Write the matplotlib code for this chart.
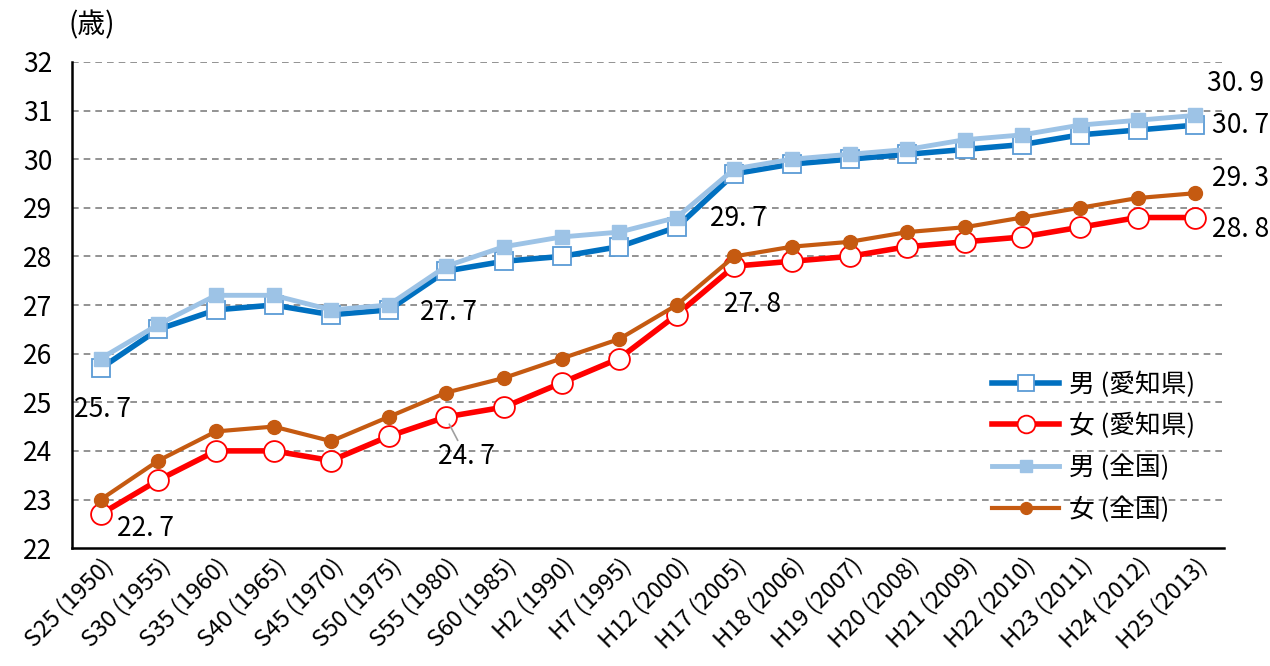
import matplotlib
matplotlib.use("Agg")
import matplotlib.pyplot as plt

plt.rcParams['font.family'] = ['Noto Sans CJK JP', 'DejaVu Sans']
NARROW = ['Liberation Sans Narrow', 'Noto Sans CJK JP']

categories = ["S25 (1950)", "S30 (1955)", "S35 (1960)", "S40 (1965)", "S45 (1970)",
              "S50 (1975)", "S55 (1980)", "S60 (1985)", "H2 (1990)", "H7 (1995)",
              "H12 (2000)", "H17 (2005)", "H18 (2006)", "H19 (2007)", "H20 (2008)",
              "H21 (2009)", "H22 (2010)", "H23 (2011)", "H24 (2012)", "H25 (2013)"]

male_aichi = [25.7, 26.5, 26.9, 27.0, 26.8, 26.9, 27.7, 27.9, 28.0, 28.2,
              28.6, 29.7, 29.9, 30.0, 30.1, 30.2, 30.3, 30.5, 30.6, 30.7]
female_aichi = [22.7, 23.4, 24.0, 24.0, 23.8, 24.3, 24.7, 24.9, 25.4, 25.9,
                26.8, 27.8, 27.9, 28.0, 28.2, 28.3, 28.4, 28.6, 28.8, 28.8]
male_japan = [25.9, 26.6, 27.2, 27.2, 26.9, 27.0, 27.8, 28.2, 28.4, 28.5,
              28.8, 29.8, 30.0, 30.1, 30.2, 30.4, 30.5, 30.7, 30.8, 30.9]
female_japan = [23.0, 23.8, 24.4, 24.5, 24.2, 24.7, 25.2, 25.5, 25.9, 26.3,
                27.0, 28.0, 28.2, 28.3, 28.5, 28.6, 28.8, 29.0, 29.2, 29.3]

labels = ["男 (愛知県)", "女 (愛知県)", "男 (全国)", "女 (全国)"]

fig = plt.figure(figsize=(12.7, 6.66), dpi=100)
ax = fig.add_axes([0.0567, 0.177, 0.907, 0.730])
x = list(range(len(categories)))

l1, = ax.plot(x, male_aichi, color='#0070C0', lw=4, marker='s', ms=13,
              mfc='white', mec='#5B9BD5', mew=1.3, zorder=3)
l2, = ax.plot(x, female_aichi, color='#FF0000', lw=4, marker='o', ms=15,
              mfc='white', mec='#FF0000', mew=1.3, zorder=4)
l3, = ax.plot(x, male_japan, color='#9DC3E6', lw=3.5, marker='s', ms=10,
              mfc='#9DC3E6', mec='#9DC3E6', zorder=5)
l4, = ax.plot(x, female_japan, color='#C55A11', lw=3, marker='o', ms=10,
              mfc='#C55A11', mec='#C55A11', zorder=6)

ax.set_xlim(-0.5, len(categories) - 0.5)
ax.set_ylim(22, 32)
ax.set_yticks(range(22, 33))
ax.tick_params(axis='y', length=0, pad=14)
ax.tick_params(axis='x', length=0, pad=4)
for t in ax.get_yticklabels():
    t.set_fontfamily(NARROW)
    t.set_fontsize(19)
ax.set_xticks(x)
ax.set_xticklabels(categories, rotation=45, ha='right', rotation_mode='anchor',
                   fontsize=17, family=NARROW)

for v in range(23, 33):
    ax.axhline(v, color='#808080', lw=1.2, ls=(0, (4, 3)), zorder=1)

for s in ['top', 'right']:
    ax.spines[s].set_visible(False)
ax.spines['left'].set_linewidth(1.8)
ax.spines['bottom'].set_linewidth(1.8)

fs = 19
kw = dict(fontsize=fs, va='center', ha='left', zorder=7, family=NARROW, clip_on=False)
ax.text(-0.47, 24.85, "25. 7", **kw)
ax.text(0.28, 22.4, "22. 7", **kw)
ax.text(5.55, 26.85, "27. 7", **kw)
ax.annotate("24. 7", xy=(6.05, 24.55), xytext=(5.85, 23.88),
            arrowprops=dict(arrowstyle='-', color='#A0A0A0', lw=1.2, shrinkA=0, shrinkB=0),
            **kw)
ax.text(10.58, 28.78, "29. 7", **kw)
ax.text(10.82, 27.02, "27. 8", **kw)
ax.text(19.2, 31.55, "30. 9", **kw)
ax.text(19.3, 30.7, "30. 7", **kw)
ax.text(19.3, 29.6, "29. 3", **kw)
ax.text(19.3, 28.55, "28. 8", **kw)

fig.text(0.054, 0.962, "(歳)", fontsize=20, va='center', ha='left')

ax.legend([l1, l2, l3, l4], labels, loc='upper left', bbox_to_anchor=(0.79, 0.385),
          frameon=False, fontsize=18.5, handlelength=2.6, labelspacing=0.6,
          handletextpad=0.4, borderaxespad=0, markerscale=0.85)

fig.savefig("out.png", dpi=100)
